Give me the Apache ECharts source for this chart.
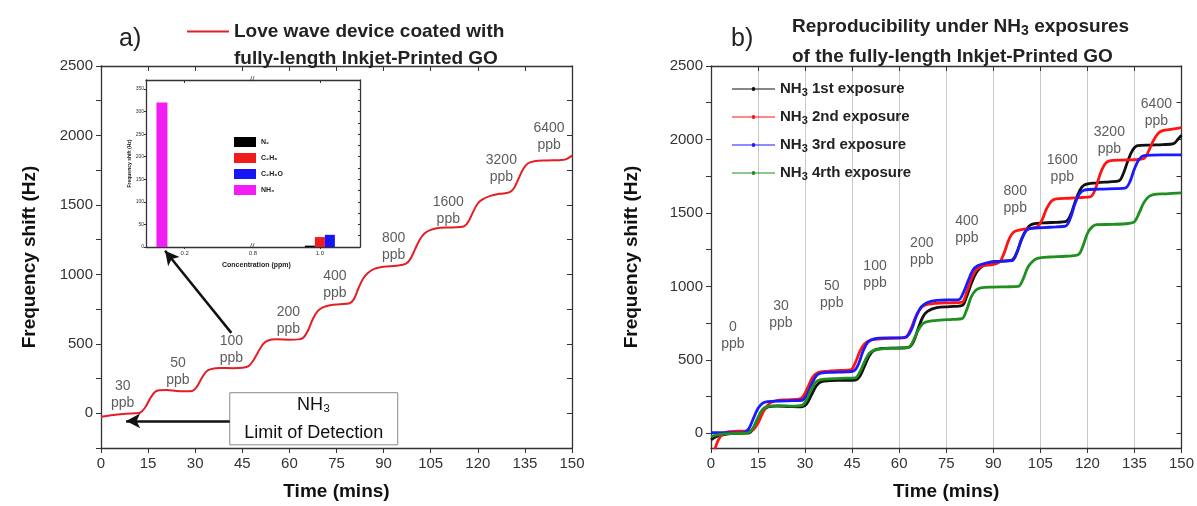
<!DOCTYPE html>
<html>
<head>
<meta charset="utf-8">
<script src="https://cdn.jsdelivr.net/npm/echarts@6/dist/echarts.min.js"></script>
<style>
  html, body { margin: 0; padding: 0; background: #fff; }
  #main { width: 1197px; height: 506px; }
</style>
</head>
<body>
<div id="main"></div>
<script>
// ---- data: panel a (love wave device, red curve) [time (min), shift (Hz)]
var loveWave = [
  [0,-25],[4,-12],[8,-3],[11,0],[12.5,5],[14,40],[15.5,100],[17,150],[18.5,165],[21,168],[24,160],[27,158],[29,160],
  [30.5,190],[32,250],[33.5,300],[35,318],[38,326],[42,325],[45,328],[47,340],[48.5,380],[50,440],[51.5,495],[53,522],
  [56,532],[60,530],[63,532],[64.5,545],[66,600],[67.5,680],[69,735],[70.5,760],[73,778],[76,785],[79,790],[80.5,820],
  [82,900],[83.5,970],[85,1010],[87,1040],[90,1055],[94,1062],[97,1075],[98.5,1110],[100,1180],[101.5,1250],[103,1295],
  [105,1320],[108,1335],[112,1338],[115.5,1345],[117,1380],[118.5,1450],[120,1510],[121.5,1540],[124,1565],[127,1580],
  [130,1590],[131.5,1620],[133,1690],[134.5,1760],[136,1800],[138,1815],[142,1820],[146,1822],[148,1828],[150,1855]
];
// concentration labels of panel a [time, shift, text]
var concLabelsA = [
  [6.9,131,'30'],[24.5,299,'50'],[41.5,459,'100'],[59.7,670,'200'],[74.5,926,'400'],
  [93.2,1200,'800'],[110.6,1460,'1600'],[127.5,1760,'3200'],[142.7,1988,'6400']
];
var freqLabelsA = [0,500,1000,1500,2000,2500];
var freqTicksA = [-250,0,250,500,750,1000,1250,1500,1750,2000,2250,2500];

// ---- inset (selectivity) [concentration (ppm), shift (Hz)]
var insetNames = ['N\u2082','C\u2082H\u2086','C\u2082H\u2086O','NH\u2083'];
var insetN2 = [[1.0, 3]];
var insetC2H6 = [[1.0, 22]];
var insetC2H6O = [[1.0, 27]];
var insetNH3 = [[0.1, 320]];
var insetLabels = [0,50,100,150,200,250,300,350];
var insetTicksRight = [0,25,50,75,100,125,150,175,200,225,250,275,300,325,350];

// ---- panel b (reproducibility) [time (min), shift (Hz)]
var bNames = ['NH3 1st exposure','NH3 2nd exposure','NH3 3rd exposure','NH3 4rth exposure'];
var exposure1 = [
  [0,-45],[2,-20],[5,-5],[9,0],[12,2],[13.5,30],[15,90],[16.5,150],[18,178],[21,185],[25,182],[29,180],
  [30.5,200],[32,260],[33.5,320],[35,350],[38,358],[42,360],[46,362],[47.5,390],[49,460],[50.5,530],[52,565],
  [55,578],[59,580],[63,585],[64.5,620],[66,710],[67.5,790],[69,830],[72,855],[76,862],[80,870],[81.5,930],
  [83,1020],[84.5,1090],[86,1130],[89,1165],[93,1172],[96,1180],[97.5,1230],[99,1320],[100.5,1385],[102,1420],
  [106,1432],[110,1436],[113,1440],[114.5,1480],[116,1570],[117.5,1650],[119,1690],[123,1705],[127,1712],[130,1718],
  [131.5,1770],[133,1860],[134.5,1930],[136,1958],[140,1962],[144,1965],[147.5,1972],[149,2005],[150,2030]
];
var exposure2 = [
  [1.2,-110],[2.5,-40],[4,0],[6,12],[9,15],[12,14],[13.5,25],[15,70],[16.5,140],[18,190],[20,218],[24,228],
  [28,232],[29.5,255],[31,320],[32.5,385],[34,412],[37,422],[41,428],[44.5,432],[46,480],[47.5,560],[49,610],
  [51,635],[55,645],[59,648],[62,652],[63.5,700],[65,780],[66.5,840],[68,870],[72,885],[76,888],[80,893],
  [81.5,960],[83,1050],[84.5,1110],[86,1135],[90,1150],[92,1165],[93.5,1230],[95,1320],[96.5,1370],[98.5,1385],
  [102,1395],[104,1405],[105.5,1450],[107,1530],[108.5,1580],[110,1595],[114,1600],[118,1605],[121,1610],
  [122.5,1660],[124,1760],[125.5,1830],[127,1855],[131,1860],[135,1862],[138,1870],[139.5,1920],[141,1990],
  [142.5,2040],[144,2060],[147,2070],[150,2080]
];
var exposure3 = [
  [0,5],[4,5],[8,3],[10.5,5],[12,30],[13.5,100],[15,170],[16.5,205],[18,215],[22,220],[26,222],[29,225],
  [30.5,260],[32,330],[33.5,390],[35,410],[39,415],[43,418],[45.5,425],[47,470],[48.5,560],[50,620],[52,643],
  [56,650],[60,650],[62.5,660],[64,710],[65.5,800],[67,860],[69,890],[72,905],[76,908],[79,910],[80.5,960],
  [82,1040],[83.5,1110],[85,1140],[88,1160],[92,1170],[96,1175],[97.5,1230],[99,1320],[100.5,1380],[102,1395],
  [106,1400],[110,1405],[113,1410],[114.5,1460],[116,1560],[117.5,1630],[119,1655],[124,1662],[129,1665],
  [132,1668],[133.5,1710],[135,1800],[136.5,1865],[138,1890],[144,1895],[150,1895]
];
var exposure4 = [
  [0,-20],[3,-8],[6,-2],[10,0],[12,5],[13.5,40],[15,110],[16.5,165],[18,182],[22,188],[26,185],[29,190],
  [30.5,230],[32,300],[33.5,350],[35,365],[39,372],[43,375],[46,378],[47.5,420],[49,490],[50.5,545],[52,565],
  [56,578],[60,580],[63,585],[64.5,630],[66,700],[67.5,745],[69,760],[73,770],[77,775],[80,780],[81.5,840],
  [83,930],[84.5,975],[86,990],[90,995],[94,997],[98,1000],[99.5,1050],[101,1130],[102.5,1170],[104,1190],
  [108,1200],[113,1205],[117,1215],[118.5,1270],[120,1360],[121.5,1405],[123,1420],[128,1422],[133,1428],
  [135,1440],[136.5,1500],[138,1570],[139.5,1610],[141,1625],[145,1630],[150,1636]
];
var concLabelsB = [
  [7,663,'0'],[22.3,810,'30'],[38.5,945,'50'],[52.3,1081,'100'],[67.2,1234,'200'],
  [81.6,1388,'400'],[97,1593,'800'],[112,1802,'1600'],[127,1991,'3200'],[142,2184,'6400']
];
var freqLabelsB = [0,500,1000,1500,2000,2500];
var freqTicksB = [0,250,500,750,1000,1250,1500,1750,2000,2250,2500];

var FONT = '"Liberation Sans", Arial, Helvetica, sans-serif';
var AX = '#333';
// thin legend line with a small dot in the middle
var LINE_DOT = 'path://M0,6 L43,6 L43,7.2 L0,7.2 Z M19.6,6.6 A1.9,1.9 0 1 1 23.4,6.6 A1.9,1.9 0 1 1 19.6,6.6 Z';

function axisLine() { return { show: true, onZero: false, lineStyle: { color: AX, width: 1.3 } }; }
function plain(v) { return String(v); }

// mirrored frame axis (top / right) with inward ticks and no labels
function mirrorX(grid, min, max, ticks) {
  return { gridIndex: grid, type: 'value', position: 'top', min: min, max: max,
    interval: ticks ? null : 15,
    axisLine: axisLine(), axisLabel: { show: false }, splitLine: { show: false },
    axisTick: { inside: true, length: ticks ? 3 : 5, customValues: ticks, lineStyle: { color: AX } } };
}
function mirrorY(grid, min, max, ticks, len) {
  return { gridIndex: grid, type: 'value', position: 'right', min: min, max: max,
    axisLine: axisLine(), axisLabel: { show: false }, splitLine: { show: false },
    axisTick: { inside: true, length: len, customValues: ticks, lineStyle: { color: AX } } };
}

var ppbLabel = {
  show: true, position: 'inside', color: '#333', fontSize: 14, lineHeight: 17,
  formatter: function (p) { return p.value[2] + '\nppb'; }
};

var chart = echarts.init(document.getElementById('main'));
chart.setOption({
  animation: false,
  textStyle: { fontFamily: FONT },
  title: [
    { text: 'a)', left: 114, top: 22, textStyle: { fontSize: 25, fontWeight: 'normal', color: '#222' } },
    { text: 'fully-length Inkjet-Printed GO', left: 229, top: 44,
      textStyle: { fontSize: 19, fontWeight: 'bold', color: '#222' } },
    { text: 'b)', left: 726, top: 22, textStyle: { fontSize: 25, fontWeight: 'normal', color: '#222' } },
    { text: 'Reproducibility under NH{s|3} exposures', left: 787, top: 10,
      textStyle: { fontSize: 19, fontWeight: 'bold', color: '#222',
        rich: { s: { fontSize: 14, fontWeight: 'bold', color: '#222', padding: [9, 0, 0, 0] } } } },
    { text: 'of the fully-length Inkjet-Printed GO', left: 787, top: 42,
      textStyle: { fontSize: 19, fontWeight: 'bold', color: '#222' } }
  ],
  legend: [
    { data: ['Love wave device coated with'], left: 182, top: 17, icon: 'rect', itemWidth: 42, itemHeight: 2,
      textStyle: { fontSize: 19, fontWeight: 'bold', color: '#222' } },
    { data: insetNames, orient: 'vertical', left: 229, top: 132, icon: 'rect',
      itemWidth: 22, itemHeight: 10, itemGap: 6,
      textStyle: { fontSize: 7, fontWeight: 'bold', color: '#222' } },
    { data: bNames, orient: 'vertical', left: 727, top: 75, icon: LINE_DOT, itemWidth: 43, itemHeight: 14,
      itemGap: 10,
      formatter: function (n) { return n.replace('NH3', 'NH{s|3}'); },
      textStyle: { fontSize: 15, fontWeight: 'bold', color: '#222', lineHeight: 18,
        rich: { s: { fontSize: 11, fontWeight: 'bold', color: '#222', padding: [7, 0, 0, 0] } } } }
  ],
  grid: [
    { left: 101, top: 66, width: 471, height: 382 },
    { left: 711, top: 66, width: 472, height: 382 },
    { left: 146, top: 80, width: 107, height: 167, show: true, backgroundColor: '#fff', borderWidth: 0 },
    { left: 253, top: 80, width: 107, height: 167, show: true, backgroundColor: '#fff', borderWidth: 0 }
  ],
  xAxis: [
    { gridIndex: 0, type: 'value', min: 0, max: 150, interval: 15, axisLine: axisLine(),
      axisTick: { length: 5, lineStyle: { color: AX } }, splitLine: { show: false },
      axisLabel: { fontSize: 15, color: '#333', margin: 8, formatter: plain },
      name: 'Time (mins)', nameLocation: 'middle', nameGap: 34,
      nameTextStyle: { fontSize: 19, fontWeight: 'bold', color: '#111' } },
    mirrorX(0, 0, 150),
    { gridIndex: 1, type: 'value', min: 0, max: 150, interval: 15, axisLine: axisLine(),
      axisTick: { length: 5, lineStyle: { color: AX } },
      splitLine: { show: true, lineStyle: { color: '#c8c8c8', width: 1 } },
      axisLabel: { fontSize: 15, color: '#333', margin: 8, formatter: plain },
      name: 'Time (mins)', nameLocation: 'middle', nameGap: 34,
      nameTextStyle: { fontSize: 19, fontWeight: 'bold', color: '#111' } },
    mirrorX(1, 0, 150),
    { gridIndex: 2, type: 'value', min: 0.03, max: 0.5, axisLine: axisLine(), splitLine: { show: false },
      axisTick: { length: 2, customValues: [0.2], lineStyle: { color: AX } },
      axisLabel: { fontSize: 6, color: '#333', margin: 3, customValues: [0.2] } },
    mirrorX(2, 0.03, 0.5, [0.2]),
    { gridIndex: 3, type: 'value', min: 0.8, max: 1.12, axisLine: axisLine(), splitLine: { show: false },
      axisTick: { length: 2, customValues: [1.0], lineStyle: { color: AX } },
      axisLabel: { fontSize: 6, color: '#333', margin: 3, customValues: [0.8, 1.0],
        formatter: function (v) { return v.toFixed(1); } } },
    mirrorX(3, 0.8, 1.12, [1.0])
  ],
  yAxis: [
    { gridIndex: 0, type: 'value', min: -250, max: 2500, axisLine: axisLine(), splitLine: { show: false },
      axisTick: { length: 5, customValues: freqTicksA, lineStyle: { color: AX } },
      axisLabel: { fontSize: 15, color: '#333', margin: 8, customValues: freqLabelsA, formatter: plain },
      name: 'Frequency shift (Hz)', nameLocation: 'middle', nameGap: 62,
      nameTextStyle: { fontSize: 19, fontWeight: 'bold', color: '#111' } },
    mirrorY(0, -250, 2500, freqTicksA, 5),
    { gridIndex: 1, type: 'value', min: -100, max: 2500, axisLine: axisLine(), splitLine: { show: false },
      axisTick: { length: 5, customValues: freqTicksB, lineStyle: { color: AX } },
      axisLabel: { fontSize: 15, color: '#333', margin: 8, customValues: freqLabelsB, formatter: plain },
      name: 'Frequency shift (Hz)', nameLocation: 'middle', nameGap: 70,
      nameTextStyle: { fontSize: 19, fontWeight: 'bold', color: '#111' } },
    mirrorY(1, -100, 2500, freqTicksB, 5),
    { gridIndex: 2, type: 'value', min: 0, max: 370, axisLine: axisLine(), splitLine: { show: false },
      axisTick: { length: 2, customValues: insetLabels, lineStyle: { color: AX } },
      axisLabel: { fontSize: 5, color: '#333', margin: 2, customValues: insetLabels },
      name: 'Frequency shift (Hz)', nameLocation: 'middle', nameGap: 13,
      nameTextStyle: { fontSize: 5, fontWeight: 'bold', color: '#222' } },
    mirrorY(3, 0, 370, insetTicksRight, 2)
  ],
  graphic: [
    { type: 'text', left: 250, top: 75, style: { text: '//', fontSize: 8, fill: '#333', fontFamily: FONT } },
    { type: 'text', left: 250, top: 242, style: { text: '//', fontSize: 8, fill: '#333', fontFamily: FONT } },
    { type: 'text', left: 222, top: 262, style: { text: 'Concentration (ppm)', fontSize: 7, fontWeight: 'bold',
      fill: '#222', fontFamily: FONT } }
  ],
  series: [
    { name: 'Love wave device coated with', type: 'line', xAxisIndex: 0, yAxisIndex: 0, data: loveWave,
      smooth: 0.35, symbol: 'none', lineStyle: { color: '#e51e25', width: 2 }, itemStyle: { color: '#e51e25' },
      z: 3,
      markLine: {
        silent: true, symbol: ['none', 'arrow'], symbolSize: [11, 14],
        label: { show: false },
        lineStyle: { color: '#111', width: 2.5, type: 'solid' },
        data: [
          [{ coord: [41, -55] }, { coord: [8, -55] }],
          [{ coord: [41.5, 579] }, { coord: [20.4, 1170] }]
        ]
      },
      markArea: {
        silent: true,
        itemStyle: { color: '#fff', borderColor: '#8a8a8a', borderWidth: 1 },
        label: { show: true, position: 'inside', color: '#111', fontSize: 18, lineHeight: 28,
          formatter: 'NH\u2083\nLimit of Detection' },
        data: [[{ coord: [41, 148] }, { coord: [94.5, -227] }]]
      }
    },
    { type: 'scatter', xAxisIndex: 0, yAxisIndex: 0, data: concLabelsA, symbolSize: 0, silent: true,
      label: ppbLabel },
    { name: insetNames[0], type: 'bar', xAxisIndex: 6, yAxisIndex: 5, data: insetN2, barWidth: 10,
      barGap: '0%', itemStyle: { color: '#000' } },
    { name: insetNames[1], type: 'bar', xAxisIndex: 6, yAxisIndex: 5, data: insetC2H6, barWidth: 10,
      barGap: '0%', itemStyle: { color: '#f21b1b' } },
    { name: insetNames[2], type: 'bar', xAxisIndex: 6, yAxisIndex: 5, data: insetC2H6O, barWidth: 10,
      barGap: '0%', itemStyle: { color: '#1515f5' } },
    { name: insetNames[3], type: 'bar', xAxisIndex: 4, yAxisIndex: 4, data: insetNH3, barWidth: 11,
      itemStyle: { color: '#f21df2' } },
    { name: bNames[0], type: 'line', xAxisIndex: 2, yAxisIndex: 2, data: exposure1, smooth: 0.35,
      symbol: 'circle', symbolSize: 3, showSymbol: false,
      lineStyle: { color: '#111', width: 2.8 }, itemStyle: { color: '#111' } },
    { name: bNames[1], type: 'line', xAxisIndex: 2, yAxisIndex: 2, data: exposure2, smooth: 0.35,
      symbol: 'circle', symbolSize: 3, showSymbol: false,
      lineStyle: { color: '#ff1414', width: 2.8 }, itemStyle: { color: '#ff1414' } },
    { name: bNames[2], type: 'line', xAxisIndex: 2, yAxisIndex: 2, data: exposure3, smooth: 0.35,
      symbol: 'circle', symbolSize: 3, showSymbol: false,
      lineStyle: { color: '#1a1aff', width: 2.8 }, itemStyle: { color: '#1a1aff' } },
    { name: bNames[3], type: 'line', xAxisIndex: 2, yAxisIndex: 2, data: exposure4, smooth: 0.35,
      symbol: 'circle', symbolSize: 3, showSymbol: false,
      lineStyle: { color: '#1f8f1f', width: 2.8 }, itemStyle: { color: '#1f8f1f' } },
    { type: 'scatter', xAxisIndex: 2, yAxisIndex: 2, data: concLabelsB, symbolSize: 0, silent: true,
      label: ppbLabel }
  ]
});
</script>
</body>
</html>
